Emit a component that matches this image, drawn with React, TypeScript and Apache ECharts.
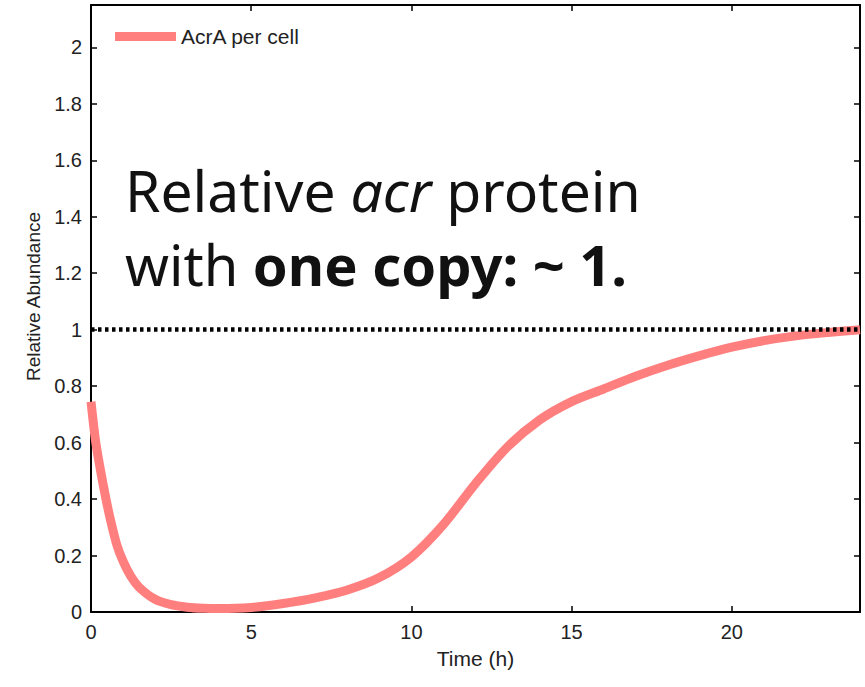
import React, { useEffect, useRef } from "react";
import * as echarts from "echarts";

const timeHours = [0, 0.15, 0.3, 0.45, 0.6, 0.8, 1.0, 1.25, 1.5, 2.0, 2.5, 3.0, 3.5, 4.0, 5, 6, 7, 8, 9, 10, 11, 12, 13, 14, 15, 16, 17, 18, 19, 20, 21, 22, 23, 24];
const acrAPerCell = [0.745, 0.6, 0.5, 0.41, 0.33, 0.24, 0.18, 0.125, 0.088, 0.045, 0.026, 0.017, 0.013, 0.012, 0.016, 0.03, 0.05, 0.078, 0.122, 0.195, 0.31, 0.455, 0.585, 0.68, 0.745, 0.79, 0.835, 0.874, 0.908, 0.938, 0.961, 0.978, 0.99, 1.0];
const referenceLevel = [1];
const seriesName = "AcrA per cell";

const axisFont = "Liberation Sans";

const mkLine = () => ({ show: true, onZero: false, lineStyle: { color: "#000", width: 2 } });
const mkTick = () => ({ show: true, inside: true, length: 6, lineStyle: { color: "#000", width: 1.5 } });

export default function App() {
  const ref = useRef<HTMLDivElement>(null);
  useEffect(() => {
    if (!ref.current) return;
    const chart = echarts.init(ref.current, undefined, { renderer: "svg" });
    chart.setOption({
      animation: false,
      backgroundColor: "#fff",
      grid: { left: 91, right: 5, top: 5, bottom: 75, containLabel: false },
      legend: {
        show: true,
        left: 115,
        top: 26,
        padding: 0,
        icon: "rect",
        itemWidth: 61,
        itemHeight: 9,
        data: [seriesName],
        textStyle: { fontFamily: axisFont, fontSize: 21, color: "#222" },
      },
      xAxis: [
        {
          type: "value",
          min: 0,
          max: 24,
          interval: 5,
          position: "bottom",
          axisLine: mkLine(),
          axisTick: mkTick(),
          splitLine: { show: false },
          axisLabel: { fontFamily: axisFont, fontSize: 20, color: "#222", margin: 10, showMaxLabel: false },
          name: "Time (h)",
          nameLocation: "middle",
          nameGap: 36,
          nameTextStyle: { fontFamily: axisFont, fontSize: 21, color: "#222" },
        },
        {
          type: "value",
          min: 0,
          max: 24,
          interval: 5,
          position: "top",
          axisLine: mkLine(),
          axisTick: mkTick(),
          splitLine: { show: false },
          axisLabel: { show: false },
        },
      ],
      yAxis: [
        {
          type: "value",
          min: 0,
          max: 2.15,
          interval: 0.2,
          position: "left",
          axisLine: mkLine(),
          axisTick: mkTick(),
          splitLine: { show: false },
          axisLabel: {
            fontFamily: axisFont,
            fontSize: 20,
            color: "#222",
            margin: 9,
            showMaxLabel: false,
            formatter: (v: number) => String(+v.toFixed(1)),
          },
          name: "Relative Abundance",
          nameLocation: "middle",
          nameGap: 48,
          nameTextStyle: { fontFamily: axisFont, fontSize: 19, color: "#222", padding: [0, 0, 0, 24] },
        },
        {
          type: "value",
          min: 0,
          max: 2.15,
          interval: 0.2,
          position: "right",
          axisLine: mkLine(),
          axisTick: mkTick(),
          splitLine: { show: false },
          axisLabel: { show: false },
        },
      ],
      series: [
        {
          name: seriesName,
          type: "line",
          data: timeHours.map((t, i) => [t, acrAPerCell[i]]),
          smooth: 0.3,
          showSymbol: false,
          symbol: "none",
          lineStyle: { color: "#ff7f7f", width: 9 },
          itemStyle: { color: "#ff7f7f" },
          z: 3,
        },
        {
          name: "reference",
          type: "line",
          data: [],
          silent: true,
          markLine: {
            silent: true,
            symbol: "none",
            label: { show: false },
            lineStyle: { color: "#000", width: 4.5, type: [3.5, 3.5] },
            data: referenceLevel.map((v) => ({ yAxis: v })),
          },
          z: 4,
        },
      ],
      graphic: [
        {
          type: "text",
          left: 125,
          top: 161,
          z: 10,
          style: {
            text: "Relative {i|acr} protein",
            font: '57px "Noto Sans"',
            fill: "#111",
            rich: {
              i: { fontStyle: "italic", fontSize: 57, fontFamily: "Noto Sans", fill: "#111" },
            },
          },
        },
        {
          type: "text",
          left: 125,
          top: 236,
          z: 10,
          style: {
            text: "with {b|one copy: ~ 1.}",
            font: '56px "Noto Sans"',
            fill: "#111",
            rich: {
              b: { fontWeight: "bold", fontSize: 56, fontFamily: "Noto Sans", fill: "#111" },
            },
          },
        },
      ],
    });
    return () => chart.dispose();
  }, []);
  return <div ref={ref} style={{ position: "absolute", left: 0, top: 0, width: 865, height: 687 }} />;
}
